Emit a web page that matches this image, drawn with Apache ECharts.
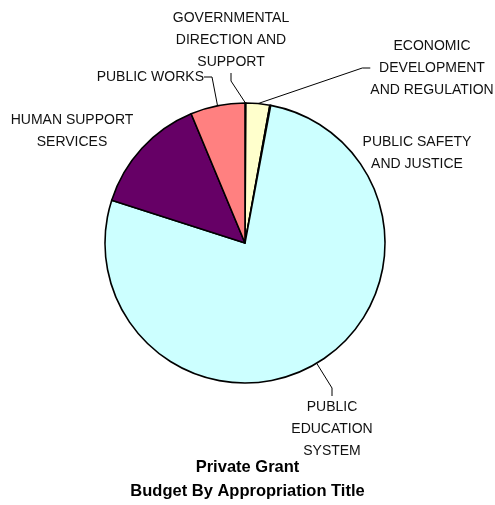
<!DOCTYPE html>
<html>
<head>
<meta charset="utf-8">
<script src="https://cdn.jsdelivr.net/npm/echarts@6/dist/echarts.min.js"></script>
<style>
  html, body { margin: 0; padding: 0; background: #fff; }
  #chart { width: 495px; height: 505px; }
</style>
</head>
<body>
<div id="chart"></div>
<script>
// Appropriation titles, clockwise from 12 o'clock
const categories = [
  'GOVERNMENTAL\nDIRECTION AND\nSUPPORT',
  'ECONOMIC\nDEVELOPMENT\nAND REGULATION',
  'PUBLIC SAFETY\nAND JUSTICE',
  'PUBLIC\nEDUCATION\nSYSTEM',
  'HUMAN SUPPORT\nSERVICES',
  'PUBLIC WORKS'
];
// Share of private grant budget (percent)
const shares = [0.1, 2.75, 0.1, 77.2, 13.8, 6.3];
const colors = ['#FFFFCC', '#FFFFCC', '#CCFFFF', '#CCFFFF', '#660066', '#FF8080'];

const labelFont = '"Liberation Sans", Arial, sans-serif';

// Label placement for each title (text anchor and whether a leader line is drawn)
const labelPlacement = {
  0: { x: 231, y: 40, align: 'center', line: true },
  1: { x: 432, y: 68, align: 'center', line: true },
  2: { x: 417, y: 153, align: 'center', line: false },
  3: { x: 332, y: 429, align: 'center', line: true },
  4: { x: 72, y: 131, align: 'center', line: false },
  5: { x: 204, y: 77, align: 'right', line: true }
};

const data = categories.map((name, i) => ({
  name: name,
  value: shares[i],
  itemStyle: { color: colors[i] },
  labelLine: { show: labelPlacement[i].line }
}));

const chart = echarts.init(document.getElementById('chart'));
chart.setOption({
  animation: false,
  title: {
    text: 'Private Grant\nBudget By Appropriation Title',
    left: 'center',
    top: 450,
    textStyle: {
      fontFamily: labelFont,
      fontSize: 16.5,
      fontWeight: 'bold',
      color: '#000',
      lineHeight: 24
    }
  },
  series: [{
    type: 'pie',
    center: [245, 243],
    radius: 140,
    startAngle: 90,
    clockwise: true,
    avoidLabelOverlap: false,
    minAngle: 0,
    itemStyle: { borderColor: '#000', borderWidth: 1.6 },
    label: {
      show: true,
      position: 'outside',
      formatter: '{b}',
      fontFamily: labelFont,
      fontSize: 14,
      lineHeight: 22,
      color: '#111',
      align: 'center'
    },
    labelLine: {
      show: true,
      length: 10,
      length2: 8,
      lineStyle: { color: '#000', width: 1 }
    },
    labelLayout: function (params) {
      const p = labelPlacement[params.dataIndex];
      return { x: p.x, y: p.y, align: p.align, verticalAlign: 'middle' };
    },
    emphasis: { disabled: true },
    data: data
  }]
});
</script>
</body>
</html>
